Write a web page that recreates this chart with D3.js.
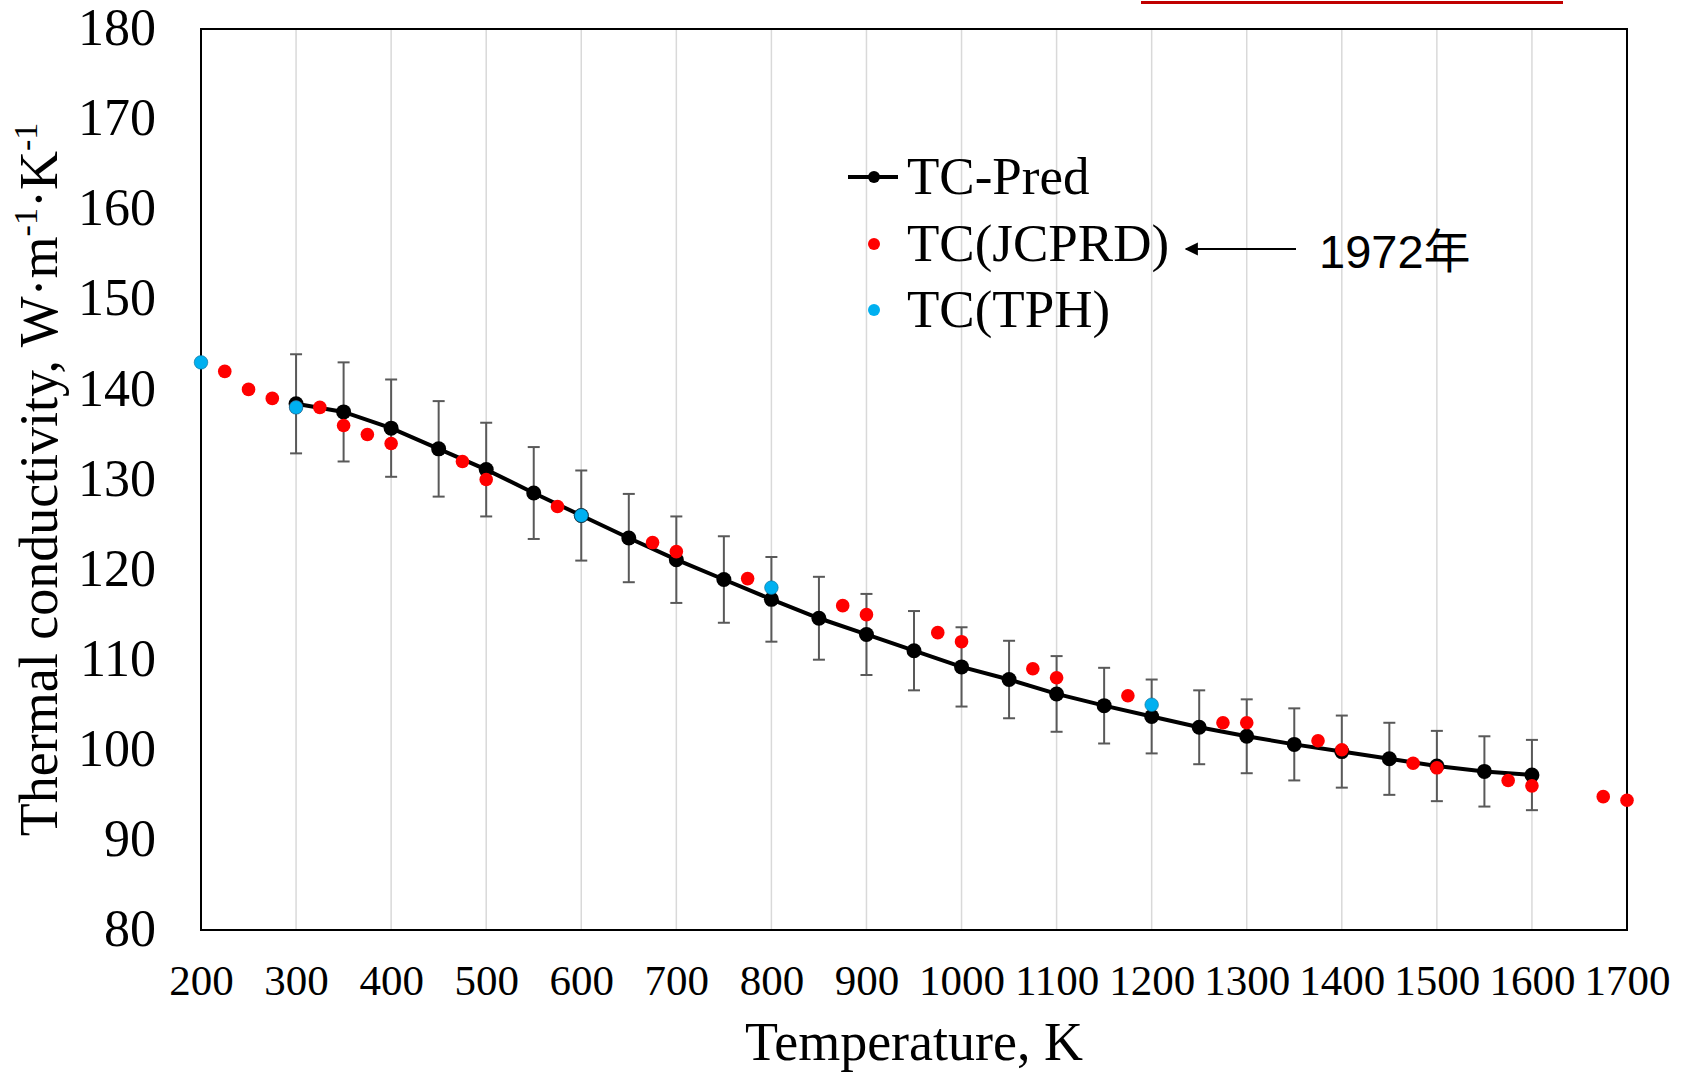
<!DOCTYPE html>
<meta charset="utf-8">
<style>
body { margin: 0; background: #fff; }
text { font-family: "Liberation Serif", "Times New Roman", serif; fill: #000; }
.grid line { stroke: #d9d9d9; stroke-width: 1.5px; }
.frame { fill: none; stroke: #000; stroke-width: 2px; }
.err { stroke: #595959; stroke-width: 2px; }
</style>
<body>
<svg id="chart" width="1684" height="1073"></svg>
<script src="https://d3js.org/d3.v7.min.js"></script>
<script>

// TC-Pred (model prediction) with error bars
const predT = [300,350,400,450,500,550,600,650,700,750,800,850,900,950,1000,1050,1100,1150,1200,1250,1300,1350,1400,1450,1500,1550,1600]
const predTC = [138.4,137.5,135.7,133.4,131.1,128.5,126.0,123.5,121.1,118.9,116.7,114.6,112.8,111.0,109.2,107.8,106.2,104.9,103.7,102.5,101.5,100.6,99.8,99.0,98.2,97.6,97.2]
const predErr = [5.5,5.5,5.4,5.3,5.2,5.1,5.0,4.9,4.8,4.8,4.7,4.6,4.5,4.4,4.4,4.3,4.2,4.2,4.1,4.1,4.1,4.0,4.0,4.0,3.9,3.9,3.9]

// TC(JCPRD)
const jcT = [225,250,275,300,325,350,375,400,475,500,575,675,700,775,875,900,975,1000,1075,1100,1175,1275,1300,1375,1400,1475,1500,1575,1600,1675,1700]
const jcTC = [142,140,139,138,138,136,135,134,132,130,127,123,122,119,116,115,113,112,109,108,106,103,103,101,100,98.5,98,96.6,96,94.8,94.4]

// TC(TPH)
const tphT = [200,300,600,800,1200]
const tphTC = [143,138,126,118,105]

const xTicks = [200,300,400,500,600,700,800,900,1000,1100,1200,1300,1400,1500,1600,1700]
const yTicks = [80,90,100,110,120,130,140,150,160,170,180]

const legendNames = ["TC-Pred", "TC(JCPRD)", "TC(TPH)"]

const svg = d3.select("#chart")

const pL = 201, pR = 1627, pT = 29, pB = 930

const x = d3.scaleLinear().domain([200, 1700]).range([pL, pR])
const y = d3.scaleLinear().domain([80, 180]).range([pB, pT])

// red underline fragment at the very top
svg.append("line")
    .attr("x1", 1141).attr("x2", 1563).attr("y1", 2.5).attr("y2", 2.5)
    .attr("stroke", "#c00000").attr("stroke-width", 3)

// vertical gridlines
svg.append("g").attr("class", "grid")
  .selectAll("line").data(xTicks.slice(1, -1)).join("line")
    .attr("x1", d => x(d)).attr("x2", d => x(d))
    .attr("y1", pT).attr("y2", pB)

svg.append("rect").attr("class", "frame")
    .attr("x", pL).attr("y", pT)
    .attr("width", pR - pL).attr("height", pB - pT)

// axes
const xAxis = svg.append("g")
    .attr("transform", `translate(0,${pB})`)
    .call(d3.axisBottom(x).tickValues(xTicks).tickSize(0).tickPadding(0).tickFormat(d3.format("d")))
xAxis.select(".domain").remove()
xAxis.selectAll("text")
    .attr("y", 50).attr("dy", "0.35em")
    .style("font-size", "43px")
    .style("font-family", "Liberation Serif")

const yAxis = svg.append("g")
    .attr("transform", `translate(${pL},0)`)
    .call(d3.axisLeft(y).tickValues(yTicks).tickSize(0).tickPadding(0).tickFormat(d3.format("d")))
yAxis.select(".domain").remove()
yAxis.selectAll("text")
    .attr("x", -45).attr("dy", "0.3em")
    .style("font-size", "52px")
    .style("font-family", "Liberation Serif")

// axis titles
svg.append("text")
    .attr("x", (pL + pR) / 2).attr("y", 1060)
    .attr("text-anchor", "middle")
    .style("font-size", "54px")
    .text("Temperature, K")

const yt = svg.append("text")
    .attr("transform", `translate(57,${(pT + pB) / 2}) rotate(-90)`)
    .attr("text-anchor", "middle")
    .style("font-size", "54px")
yt.append("tspan").text("Thermal conductivity, W·m")
yt.append("tspan").attr("dy", -20).style("font-size", "34px").text("-1")
yt.append("tspan").attr("dy", 20).text("·K")
yt.append("tspan").attr("dy", -20).style("font-size", "34px").text("-1")

// error bars
const eb = svg.append("g").attr("class", "err")
predT.forEach((t, i) => {
  const cx = x(t), y0 = y(predTC[i] - predErr[i]), y1 = y(predTC[i] + predErr[i])
  eb.append("line").attr("x1", cx).attr("x2", cx).attr("y1", y0).attr("y2", y1)
  eb.append("line").attr("x1", cx - 6).attr("x2", cx + 6).attr("y1", y0).attr("y2", y0)
  eb.append("line").attr("x1", cx - 6).attr("x2", cx + 6).attr("y1", y1).attr("y2", y1)
})

// prediction line + markers
const line = d3.line().x((d, i) => x(predT[i])).y(d => y(d))
svg.append("path")
    .datum(predTC)
    .attr("d", line)
    .attr("fill", "none").attr("stroke", "#000").attr("stroke-width", 4)
svg.append("g").selectAll("circle").data(predTC).join("circle")
    .attr("cx", (d, i) => x(predT[i])).attr("cy", d => y(d))
    .attr("r", 7.5).attr("fill", "#000")

svg.append("g").selectAll("circle").data(jcTC).join("circle")
    .attr("cx", (d, i) => x(jcT[i])).attr("cy", d => y(d))
    .attr("r", 6.8).attr("fill", "#ff0000")

svg.append("g").selectAll("circle").data(tphTC).join("circle")
    .attr("cx", (d, i) => x(tphT[i])).attr("cy", d => y(d))
    .attr("r", 6.8).attr("fill", "#00b0f0").attr("stroke", "#0a6c94").attr("stroke-width", 0.6)

// legend
const lg = svg.append("g")
const ly = [177, 244, 310]
lg.append("line").attr("x1", 848).attr("x2", 898).attr("y1", ly[0]).attr("y2", ly[0])
    .attr("stroke", "#000").attr("stroke-width", 4)
lg.append("circle").attr("cx", 874).attr("cy", ly[0]).attr("r", 6).attr("fill", "#000")
lg.append("circle").attr("cx", 874).attr("cy", ly[1]).attr("r", 6).attr("fill", "#ff0000")
lg.append("circle").attr("cx", 874).attr("cy", ly[2]).attr("r", 6).attr("fill", "#00b0f0")
lg.selectAll("text").data(legendNames).join("text")
    .attr("x", 907).attr("y", (d, i) => ly[i]).attr("dy", "0.33em")
    .style("font-size", "53px")
    .text(d => d)

// annotation arrow
svg.append("defs").append("marker")
    .attr("id", "arrow").attr("viewBox", "0 0 10 10")
    .attr("refX", 9).attr("refY", 5)
    .attr("markerWidth", 6).attr("markerHeight", 6)
    .attr("orient", "auto-start-reverse")
  .append("path").attr("d", "M0,0L10,5L0,10z").attr("fill", "#000")
svg.append("line")
    .attr("x1", 1296).attr("x2", 1186).attr("y1", 249).attr("y2", 249)
    .attr("stroke", "#000").attr("stroke-width", 2.2)
    .attr("marker-end", "url(#arrow)")
svg.append("text")
    .attr("x", 1319).attr("y", 251).attr("dy", "0.36em")
    .style("font-family", "'Liberation Sans', 'Noto Sans CJK SC', sans-serif")
    .style("font-size", "47px")
    .text("1972年")

</script>
</body>
